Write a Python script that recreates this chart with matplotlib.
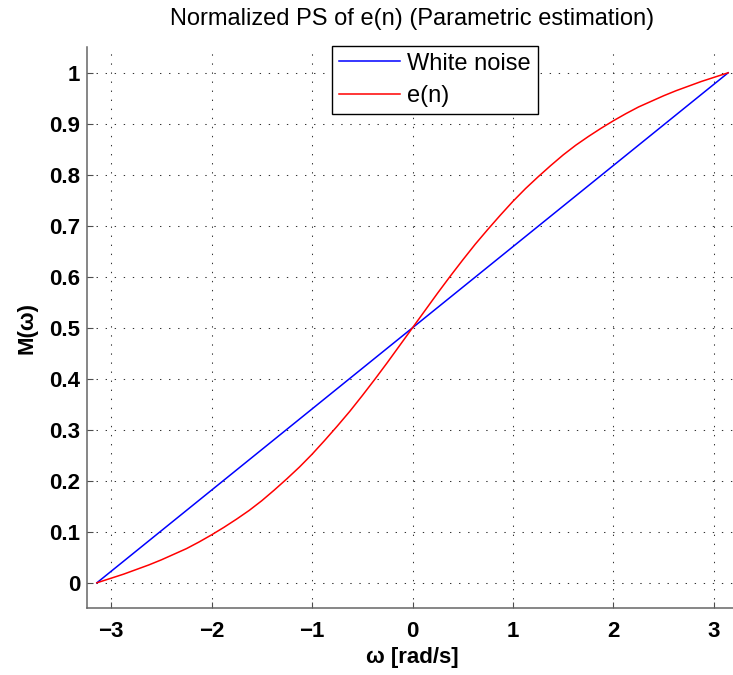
import numpy as np
import matplotlib
matplotlib.use('Agg')
import matplotlib.pyplot as plt

# data
w = [-np.pi, -3.0, -2.875, -2.75, -2.625, -2.5, -2.375, -2.25, -2.125, -2.0, -1.875, -1.75, -1.625,
     -1.5, -1.375, -1.25, -1.125, -1.0, -0.875, -0.75, -0.625, -0.5, -0.375, -0.25, -0.125,
     0.0, 0.125, 0.25, 0.375, 0.5, 0.625, 0.75, 0.875, 1.0, 1.125, 1.25, 1.375, 1.5,
     1.625, 1.75, 1.875, 2.0, 2.125, 2.25, 2.375, 2.5, 2.625, 2.75, 2.875, 3.0, np.pi]
m_en = [0.0, 0.009, 0.017, 0.026, 0.035, 0.045, 0.056, 0.067, 0.080, 0.094, 0.109, 0.125, 0.142,
        0.161, 0.182, 0.204, 0.227, 0.252, 0.279, 0.307, 0.336, 0.367, 0.399, 0.432, 0.466,
        0.500, 0.534, 0.568, 0.601, 0.633, 0.664, 0.693, 0.721, 0.748, 0.773, 0.796, 0.818, 0.839,
        0.858, 0.875, 0.891, 0.906, 0.920, 0.933, 0.944, 0.955, 0.965, 0.974, 0.983, 0.991, 1.0]
w_white = [-np.pi, np.pi]
m_white = [0.0, 1.0]

xticks = [-3, -2, -1, 0, 1, 2, 3]
yticks = [0, 0.1, 0.2, 0.3, 0.4, 0.5, 0.6, 0.7, 0.8, 0.9, 1]
ytick_labels = ['0', '0.1', '0.2', '0.3', '0.4', '0.5', '0.6', '0.7', '0.8', '0.9', '1']

plt.rcParams['font.family'] = ['Liberation Sans', 'DejaVu Sans']

W, H = 733, 675
fig = plt.figure(figsize=(W / 100, H / 100), dpi=100)
left, right, top, bottom = 87, 738, 47.3, 608.3
ax = fig.add_axes([left / W, 1 - bottom / H, (right - left) / W, (bottom - top) / H])

ax.plot(w_white, m_white, color=(0, 0, 1), lw=1.1, label='White noise')
ax.plot(w, m_en, color=(1, 0, 0), lw=1.1, label='e(n)')

ax.set_xlim(-3.24, 3.24)
ax.set_ylim(-0.05, 1.05)
ax.set_xticks(xticks)
ax.set_yticks(yticks)
ax.set_yticklabels(ytick_labels)

ax.grid(True, color='0.2', linestyle=(0, (1.3, 7.4)), linewidth=0.75)
for s in ['top', 'right']:
    ax.spines[s].set_visible(False)
for s in ['left', 'bottom']:
    ax.spines[s].set_color('0.4')
    ax.spines[s].set_linewidth(1.1)

ax.tick_params(axis='both', direction='in', length=4, width=0.8, color='0.3',
               labelsize=16)
ax.tick_params(axis='x', pad=9)
ax.tick_params(axis='y', pad=5)
for lbl in ax.get_xticklabels() + ax.get_yticklabels():
    lbl.set_fontweight('bold')

ax.set_title('Normalized PS of e(n) (Parametric estimation)', fontsize=17, pad=16)
ax.set_xlabel('ω [rad/s]', fontsize=16, fontweight='bold', labelpad=4)
ax.set_ylabel('M(ω)', fontsize=16, fontweight='bold', labelpad=8)

leg = ax.legend(loc='upper left', bbox_to_anchor=(0.376, 1.003), borderaxespad=0,
                fontsize=17, fancybox=False, framealpha=1, handlelength=2.6,
                handletextpad=0.3, borderpad=0.3, labelspacing=0.45)
leg.get_frame().set_edgecolor('k')
leg.get_frame().set_linewidth(1.0)

fig.savefig('out.png', dpi=100)
